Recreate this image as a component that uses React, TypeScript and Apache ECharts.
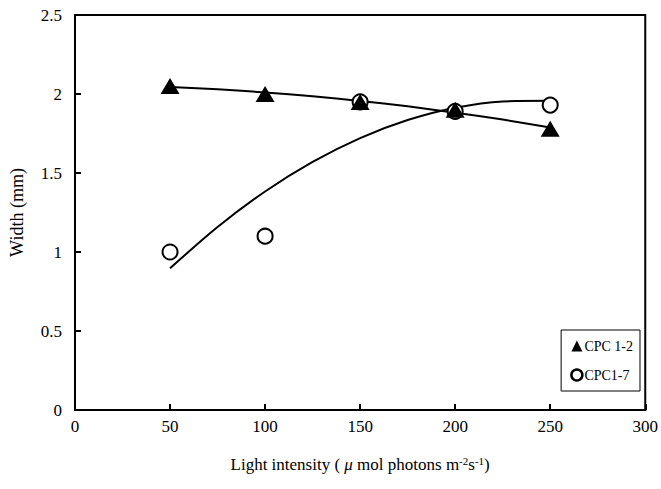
import React, { useEffect, useRef } from "react";
import * as echarts from "echarts";

const xValues = [50, 100, 150, 200, 250];
const cpc12 = [2.05, 2.0, 1.95, 1.9, 1.78];
const cpc17 = [1.0, 1.1, 1.95, 1.89, 1.93];

const trendX = [50, 75, 100, 125, 150, 175, 200, 225, 250];
const trend12 = [2.044, 2.03, 2.01, 1.986, 1.956, 1.922, 1.882, 1.838, 1.788];
const trend17 = [0.897, 1.158, 1.383, 1.57, 1.721, 1.835, 1.913, 1.953, 1.957];

const FONT = "'Liberation Serif', 'Times New Roman', serif";

export default function App() {
  const ref = useRef<HTMLDivElement>(null);
  useEffect(() => {
    if (!ref.current) return;
    const chart = echarts.init(ref.current, undefined, { renderer: "svg" });
    const pts = (ys: number[], xs: number[]) => xs.map((x, i) => [x, ys[i]]);
    chart.setOption({
      animation: false,
      backgroundColor: "#fff",
      textStyle: { fontFamily: FONT, color: "#000" },
      grid: {
        left: 73,
        right: 12,
        top: 15,
        bottom: 79,
        show: true,
        borderColor: "#000",
        borderWidth: 2,
      },
      legend: {
        orient: "vertical",
        right: 21,
        bottom: 98,
        backgroundColor: "#fff",
        borderColor: "#000",
        borderWidth: 1,
        padding: [9, 7, 9, 9],
        itemGap: 15,
        itemWidth: 11,
        itemHeight: 11,
        textStyle: { fontFamily: FONT, fontSize: 14, color: "#000", padding: [0, 0, 0, -3] },
        data: [
          { name: "CPC 1-2", icon: "triangle", itemStyle: { color: "#000", opacity: 1 } },
          { name: "CPC1-7", icon: "circle", itemStyle: { color: "#fff", borderColor: "#000", borderWidth: 2.5, opacity: 1 } },
        ],
      },
      xAxis: {
        type: "value",
        min: 0,
        max: 300,
        interval: 50,
        name: "{a|Light intensity ( }{i|μ}{a| mol photons m}{s|-2}{a|s}{s|-1}{a|)}",
        nameLocation: "middle",
        nameGap: 45,
        nameTextStyle: {
          rich: {
            a: { fontFamily: FONT, fontSize: 17, color: "#000" },
            i: { fontFamily: FONT, fontSize: 17, color: "#000", fontStyle: "italic" },
            s: { fontFamily: FONT, fontSize: 11, color: "#000", verticalAlign: "top", padding: [0, 0, 8, 0] },
          },
        },
        axisLine: { lineStyle: { color: "#000", width: 2 } },
        axisTick: { inside: true, length: 6, lineStyle: { color: "#000", width: 2 } },
        axisLabel: { fontFamily: FONT, fontSize: 17, color: "#000", margin: 8 },
        splitLine: { show: false },
      },
      yAxis: {
        type: "value",
        min: 0,
        max: 2.5,
        interval: 0.5,
        name: "Width (mm)",
        nameLocation: "middle",
        nameGap: 49,
        nameTextStyle: { fontFamily: FONT, fontSize: 18, color: "#000" },
        axisLine: { lineStyle: { color: "#000", width: 2 } },
        axisTick: { inside: true, length: 6, lineStyle: { color: "#000", width: 2 } },
        axisLabel: { fontFamily: FONT, fontSize: 17, color: "#000", margin: 13 },
        splitLine: { show: false },
      },
      series: [
        {
          name: "trend12",
          type: "line",
          data: pts(trend12, trendX),
          smooth: 0.3,
          symbol: "none",
          lineStyle: { color: "#000", width: 2 },
          silent: true,
          z: 1,
        },
        {
          name: "trend17",
          type: "line",
          data: pts(trend17, trendX),
          smooth: 0.3,
          symbol: "none",
          lineStyle: { color: "#000", width: 2 },
          silent: true,
          z: 1,
        },
        {
          name: "CPC1-7",
          type: "scatter",
          data: pts(cpc17, xValues),
          symbol: "circle",
          symbolSize: 15,
          itemStyle: { color: "#fff", borderColor: "#000", borderWidth: 2, opacity: 1 },
          z: 3,
        },
        {
          name: "CPC 1-2",
          type: "scatter",
          data: pts(cpc12, xValues),
          symbol: "triangle",
          symbolSize: [19, 16],
          itemStyle: { color: "#000", opacity: 1 },
          z: 4,
        },
      ],
    });
    return () => chart.dispose();
  }, []);
  return <div ref={ref} style={{ width: 661, height: 489, position: "absolute", left: 0, top: 0 }} />;
}
